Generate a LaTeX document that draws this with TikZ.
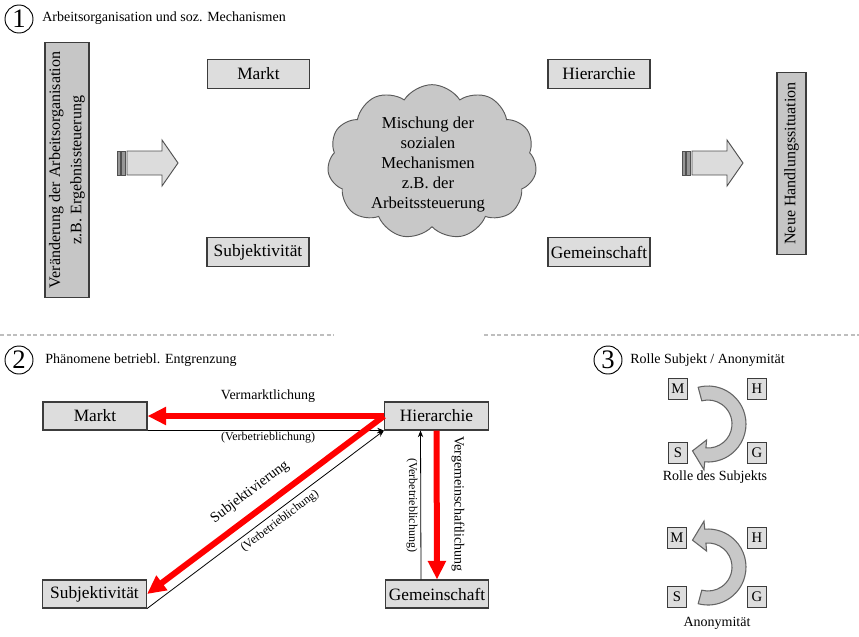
\documentclass[tikz,border=0pt]{standalone}
\usepackage{fontspec}
\setmainfont{Liberation Serif}
\usetikzlibrary{shapes.symbols,arrows.meta,calc}

\begin{document}
\begin{tikzpicture}[x=0.75pt,y=0.75pt,yscale=-1,xscale=1,
  kasten/.style={draw={rgb,255:red,60;green,60;blue,60}, line width=0.8pt, fill={rgb,255:red,221;green,221;blue,221}, inner sep=0pt, minimum width=76.5pt, minimum height=21.5pt, font=\fontsize{13}{15}\selectfont},
  hochkasten/.style={draw={rgb,255:red,60;green,60;blue,60}, line width=0.8pt, fill={rgb,255:red,198;green,198;blue,198}, inner sep=0pt, rotate=90, align=center, font=\fontsize{12}{16}\selectfont},
  kleinkasten/.style={draw={rgb,255:red,60;green,60;blue,60}, line width=0.7pt, fill={rgb,255:red,221;green,221;blue,221}, inner sep=0pt, minimum width=14.25pt, minimum height=15.75pt, font=\fontsize{11}{13}\selectfont},
  wolke/.style={cloud, cloud puffs=11, cloud puff arc=115, aspect=1.35, minimum width=157pt, minimum height=116pt, draw={rgb,255:red,90;green,90;blue,90}, line width=0.7pt, fill={rgb,255:red,200;green,200;blue,200}, inner sep=0pt},
  nummer/.style={circle, draw, line width=0.7pt, inner sep=0pt, minimum size=21pt, font=\fontsize{20}{20}\selectfont},
  titel/.style={anchor=west, inner sep=0pt, font=\fontsize{10.5}{12}\selectfont},
  beschriftung/.style={inner sep=0pt, font=\fontsize{10.5}{12}\selectfont},
  klammer/.style={inner sep=0pt, font=\fontsize{9}{11}\selectfont},
  rotpfeil/.style={draw=red, line width=4.5pt, -{Triangle[length=14pt,width=13pt]}},
  duennpfeil/.style={draw=black, line width=0.6pt, -{Stealth[length=5pt,width=4pt]}},
  blockpfeil/.style={draw={rgb,255:red,80;green,80;blue,80}, line width=0.7pt, fill={rgb,255:red,220;green,220;blue,220}},
  streifen/.style={draw={rgb,255:red,80;green,80;blue,80}, line width=0.5pt, fill={rgb,255:red,150;green,150;blue,150}},
  bogenpfeil/.style={draw={rgb,255:red,100;green,100;blue,100}, line width=0.8pt, fill={rgb,255:red,200;green,200;blue,200}},
  trennlinie/.style={draw={rgb,255:red,190;green,190;blue,190}, line width=0.8pt, dash pattern=on 3pt off 2pt}
]

\useasboundingbox (0,0) rectangle (859,636);

% Teil 1: Arbeitsorganisation
\draw (19,19) node [nummer] (nr1) {1};
\draw (42,18) node [titel] (titel1) {Arbeitsorganisation und soz. Mechanismen};
\draw (67,170) node [hochkasten, minimum width=191pt, minimum height=33pt] (veraenderung) {Veränderung der Arbeitsorganisation\\z.B. Ergebnissteuerung};
\draw (791.5,163.5) node [hochkasten, minimum width=136pt, minimum height=21.75pt] (neue) {Neue Handlungssituation};

\draw [streifen] (117,151) rectangle (120,175);
\draw [streifen] (121.5,151) rectangle (125,175);
\draw [blockpfeil] (127,151) -- (162,151) -- (162,140) -- (178,163) -- (162,186) -- (162,175) -- (127,175) -- cycle;
\draw [streifen] (682,151) rectangle (685,175);
\draw [streifen] (686.5,151) rectangle (690,175);
\draw [blockpfeil] (692,151) -- (727,151) -- (727,140) -- (743,163) -- (727,186) -- (727,175) -- (692,175) -- cycle;

\draw (258.5,74) node [kasten] (markt1) {Markt};
\draw (599,74) node [kasten] (hier1) {Hierarchie};
\draw (258,252) node [kasten] (subj1) {Subjektivität};
\draw (599,252) node [kasten] (gem1) {Gemeinschaft};

\draw (432,162) node [wolke] (mischung) {};
\draw (428,165) node [align=center, inner sep=0pt, font=\fontsize{12.5}{15}\selectfont] (mischtext) {Mischung der\\sozialen\\Mechanismen\\z.B. der\\Arbeitssteuerung};

\draw [trennlinie] (0,335) -- (334,335);
\draw [trennlinie] (484,335) -- (859,335);

% Teil 2: Entgrenzung
\draw (19,360) node [nummer] (nr2) {2};
\draw (45,360) node [titel] (titel2) {Phänomene betriebl. Entgrenzung};

\draw (95,416) node [kasten, minimum width=78pt, minimum height=21pt] (markt2) {Markt};
\draw (436.5,416) node [kasten, minimum width=78pt, minimum height=21pt] (hier2) {Hierarchie};
\draw (94.5,594) node [kasten, minimum width=78pt, minimum height=21pt] (subj2) {Subjektivität};
\draw (437,594) node [kasten, minimum width=77pt, minimum height=21pt] (gem2) {Gemeinschaft};

\draw [duennpfeil] (markt2.south east) -- (hier2.south west);
\draw [duennpfeil] (subj2.south east) -- (hier2.south west);
\draw [duennpfeil] ($(gem2.north)+(-16,0)$) -- ($(hier2.south)+(-16,0)$);

\draw [rotpfeil] (hier2.west) -- (markt2.east);
\draw [rotpfeil] (hier2.west) -- (subj2.east);
\draw [rotpfeil] (hier2.south) -- (gem2.north);

\draw (268,396) node [beschriftung] (vermarkt) {Vermarktlichung};
\draw (268,438) node [klammer] (verbetr1) {(Verbetrieblichung)};
\draw (250,492) node [beschriftung, rotate=37, font=\fontsize{11}{12}\selectfont] (subjektiv) {Subjektivierung};
\draw (280,521) node [klammer, rotate=37] (verbetr2) {(Verbetrieblichung)};
\draw (458,504) node [beschriftung, rotate=-90] (vergemein) {Vergemeinschaftlichung};
\draw (412,505) node [klammer, rotate=-90] (verbetr3) {(Verbetrieblichung)};

% Teil 3: Rolle Subjekt / Anonymitaet
\draw (608,360) node [nummer] (nr3) {3};
\draw (630,360) node [titel] (titel3) {Rolle Subjekt / Anonymität};

\draw (678,389) node [kleinkasten] (m1) {M};
\draw (757,389) node [kleinkasten] (h1) {H};
\draw (678,453) node [kleinkasten] (s1) {S};
\draw (757,453) node [kleinkasten] (g1) {G};
\begin{scope}[shift={(708,424)}]
\draw [bogenpfeil] (-105:38) arc (-105:95:38) -- (95:46) -- (120:31) -- (95:16) -- (95:24) arc (95:-105:24) -- cycle;
\end{scope}
\draw (715,477) node [beschriftung] (rolle) {Rolle des Subjekts};

\draw (677,538) node [kleinkasten] (m2) {M};
\draw (757,538) node [kleinkasten] (h2) {H};
\draw (677,597) node [kleinkasten] (s2) {S};
\draw (757,597) node [kleinkasten] (g2) {G};
\begin{scope}[shift={(708,567)}]
\draw [bogenpfeil] (105:38) arc (105:-95:38) -- (-95:46) -- (-120:31) -- (-95:16) -- (-95:24) arc (-95:105:24) -- cycle;
\end{scope}
\draw (717,623) node [beschriftung] (anonym) {Anonymität};
\end{tikzpicture}
\end{document}
